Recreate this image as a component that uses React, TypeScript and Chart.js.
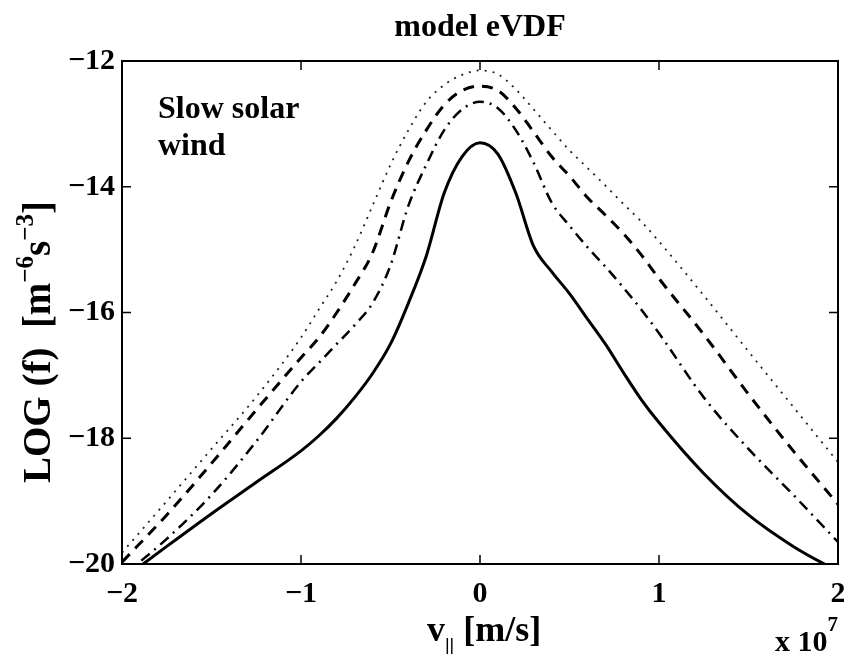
import React, { useEffect, useRef } from 'react';
import { Chart, registerables } from 'chart.js';

Chart.register(...registerables);

// Parallel velocity grid (units of 1e7 m/s)
const velocity = [
  -2, -1.75, -1.5, -1.25, -1, -0.9, -0.8, -0.7, -0.6, -0.5, -0.4, -0.3, -0.2, -0.1,
  0, 0.1, 0.2, 0.3, 0.4, 0.5, 0.6, 0.7, 0.8, 0.9, 1, 1.25, 1.5, 1.75, 2,
];

// log10 of the model distribution for four cases
const logSolid = [
  -20.25, -19.72, -19.2, -18.7, -18.2, -17.96, -17.68, -17.35, -16.97, -16.5, -15.85, -15.1, -14.1, -13.52,
  -13.3, -13.48, -14.1, -14.95, -15.35, -15.7, -16.1, -16.5, -16.95, -17.38, -17.75, -18.56, -19.22, -19.72, -20.12,
];
const logDashed = [
  -19.97, -19.22, -18.4, -17.55, -16.72, -16.4, -16.0, -15.55, -15.05, -14.25, -13.6, -13.1, -12.7, -12.47,
  -12.4, -12.47, -12.75, -13.13, -13.52, -13.83, -14.17, -14.45, -14.74, -15.08, -15.46, -16.35, -17.3, -18.2, -19.05,
];
const logDashDot = [
  -20.2, -19.6, -18.9, -18.05, -17.1, -16.8, -16.5, -16.2, -15.85, -15.25, -14.3, -13.65, -13.1, -12.77,
  -12.65, -12.75, -13.1, -13.62, -14.25, -14.62, -14.96, -15.27, -15.6, -15.95, -16.33, -17.35, -18.17, -18.9, -19.65,
];
const logDotted = [
  -19.82, -19.0, -18.17, -17.34, -16.4, -15.95, -15.5, -14.95, -14.3, -13.65, -13.1, -12.65, -12.38, -12.22,
  -12.15, -12.21, -12.45, -12.77, -13.1, -13.42, -13.7, -13.98, -14.27, -14.55, -14.87, -15.73, -16.62, -17.5, -18.38,
];

const xTicks = [-2, -1, 0, 1, 2];
const yTicks = [-20, -18, -16, -14, -12];

const titleText = 'model eVDF';
const noteLines = ['Slow solar', 'wind'];

const serif = '"Liberation Serif", "Times New Roman", serif';
const boldFont = (size: number) => `bold ${size}px ${serif}`;

type Run = { text: string; size: number; rise: number };

function runsWidth(ctx: CanvasRenderingContext2D, runs: Run[]) {
  let w = 0;
  for (const r of runs) {
    ctx.font = boldFont(r.size);
    w += ctx.measureText(r.text).width;
  }
  return w;
}

function drawRuns(ctx: CanvasRenderingContext2D, runs: Run[], x: number, y: number) {
  let cx = x;
  for (const r of runs) {
    ctx.font = boldFont(r.size);
    ctx.fillText(r.text, cx, y - r.rise);
    cx += ctx.measureText(r.text).width;
  }
}

const xLabelRuns: Run[] = [
  { text: 'v', size: 36, rise: 0 },
  { text: '||', size: 21, rise: -12 },
  { text: ' [m/s]', size: 36, rise: 0 },
];
const yLabelRuns: Run[] = [
  { text: 'LOG (f)  [m', size: 39, rise: 0 },
  { text: '\u22126', size: 25, rise: 17 },
  { text: 's', size: 39, rise: 0 },
  { text: '\u22123', size: 25, rise: 17 },
  { text: ']', size: 39, rise: 0 },
];
const scaleRuns: Run[] = [
  { text: 'x 10', size: 30, rise: 0 },
  { text: '7', size: 21, rise: 20 },
];

const framePlugin = {
  id: 'frame',
  afterDatasetsDraw(chart: any) {
    const { ctx, chartArea: a, scales } = chart;
    ctx.save();
    ctx.strokeStyle = '#000';
    ctx.fillStyle = '#000';

    // inward tick marks on all four sides
    const len = 9;
    ctx.lineWidth = 1.5;
    ctx.beginPath();
    for (const v of xTicks) {
      const px = scales.x.getPixelForValue(v);
      if (Math.abs(px - a.left) < 2 || Math.abs(px - a.right) < 2) continue;
      ctx.moveTo(px, a.bottom);
      ctx.lineTo(px, a.bottom - len);
      ctx.moveTo(px, a.top);
      ctx.lineTo(px, a.top + len);
    }
    for (const v of yTicks) {
      const py = scales.y.getPixelForValue(v);
      if (Math.abs(py - a.top) < 2 || Math.abs(py - a.bottom) < 2) continue;
      ctx.moveTo(a.left, py);
      ctx.lineTo(a.left + len, py);
      ctx.moveTo(a.right, py);
      ctx.lineTo(a.right - len, py);
    }
    ctx.stroke();

    // axes box
    ctx.lineWidth = 2;
    ctx.strokeRect(a.left, a.top, a.right - a.left, a.bottom - a.top);

    ctx.textBaseline = 'alphabetic';

    // title
    ctx.textAlign = 'center';
    ctx.font = boldFont(32);
    ctx.fillText(titleText, (a.left + a.right) / 2, 36);

    // annotation
    ctx.textAlign = 'left';
    ctx.font = boldFont(32);
    ctx.fillText(noteLines[0], a.left + 36, 118);
    ctx.fillText(noteLines[1], a.left + 36, 155);

    // x axis label
    drawRuns(ctx, xLabelRuns, 427, 641);

    // exponent of the x axis
    const sw = runsWidth(ctx, scaleRuns);
    drawRuns(ctx, scaleRuns, a.right - sw, 651);

    // y axis label, rotated
    const yw = runsWidth(ctx, yLabelRuns);
    ctx.translate(50, 342);
    ctx.rotate(-Math.PI / 2);
    drawRuns(ctx, yLabelRuns, -yw / 2, 0);

    ctx.restore();
  },
};

export default function App() {
  const canvasRef = useRef<HTMLCanvasElement | null>(null);

  useEffect(() => {
    document.body.style.margin = '0';
    const canvas = canvasRef.current;
    if (!canvas) return;

    const line = (data: number[], width: number, dash: number[], color = '#000') => ({
      data: velocity.map((v, i) => ({ x: v, y: data[i] })),
      borderColor: color,
      borderWidth: width,
      borderDash: dash,
      pointRadius: 0,
      cubicInterpolationMode: 'monotone' as const,
      fill: false,
    });

    const tickFont = { family: serif, size: 30, weight: 'bold' as const };

    const chart = new Chart(canvas, {
      type: 'line',
      data: {
        datasets: [
          line(logDotted, 1.8, [2, 6], '#222'),
          line(logDashed, 3, [11, 8]),
          line(logDashDot, 2.5, [11, 6, 2, 6]),
          line(logSolid, 3, []),
        ],
      },
      options: {
        animation: false,
        responsive: false,
        layout: { padding: { top: 61, right: 6, left: 0, bottom: 0 } },
        plugins: { legend: { display: false }, tooltip: { enabled: false }, title: { display: false } },
        scales: {
          x: {
            type: 'linear',
            min: -2,
            max: 2,
            grid: { display: false, drawTicks: false },
            border: { display: false },
            afterBuildTicks: (s: any) => {
              s.ticks = xTicks.map((v) => ({ value: v }));
            },
            afterFit: (s: any) => {
              s.height = 90;
              s.paddingLeft = 0;
              s.paddingRight = 0;
            },
            ticks: {
              color: '#000',
              font: tickFont,
              padding: 12,
              maxRotation: 0,
              callback: (v: any) => String(v).replace('-', '\u2212'),
            },
          },
          y: {
            type: 'linear',
            min: -20,
            max: -12,
            grid: { display: false, drawTicks: false },
            border: { display: false },
            afterBuildTicks: (s: any) => {
              s.ticks = yTicks.map((v) => ({ value: v }));
            },
            afterFit: (s: any) => {
              s.width = 122;
              s.paddingTop = 0;
              s.paddingBottom = 0;
            },
            ticks: {
              color: '#000',
              font: tickFont,
              padding: 7,
              callback: (v: any) => String(v).replace('-', '\u2212'),
            },
          },
        },
      },
      plugins: [framePlugin],
    });

    return () => chart.destroy();
  }, []);

  return <canvas ref={canvasRef} width={844} height={654} style={{ display: 'block' }} />;
}
